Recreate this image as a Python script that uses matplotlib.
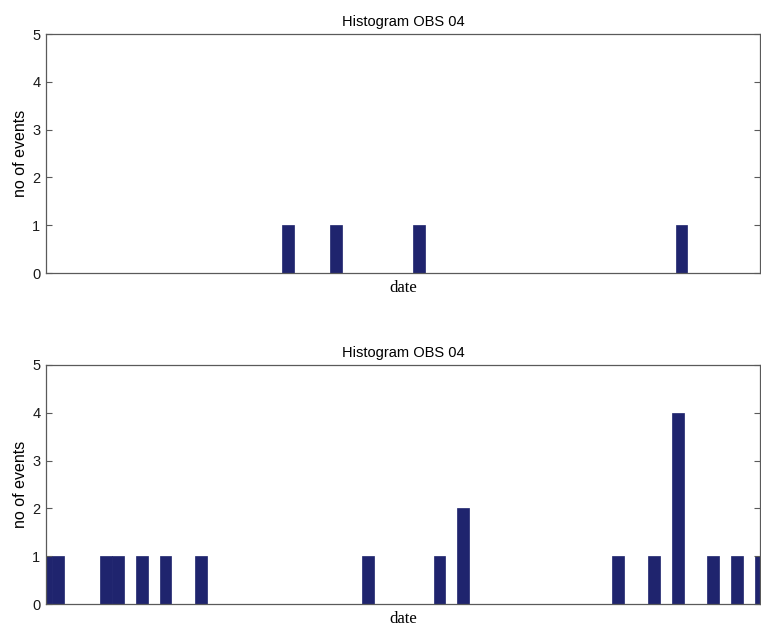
import matplotlib
matplotlib.use("Agg")
import matplotlib.pyplot as plt
import numpy as np

# Event counts per bin (bin index -> count), two observation periods
top_bins = [20, 24, 31, 53]
top_counts = [1, 1, 1, 1]
top_offset = 0.32  # bin edges of the first histogram are shifted

bottom_bins = [0, 1, 5, 6, 8, 10, 13, 27, 33, 35, 48, 51, 53, 56, 58, 60]
bottom_counts = [1, 1, 1, 1, 1, 1, 1, 1, 1, 2, 1, 1, 4, 1, 1, 1]

title_text = "Histogram OBS 04"
xlabel_text = "date"
ylabel_text = "no of events"
yticks = [0, 1, 2, 3, 4, 5]

W, H = 761, 626
fig = plt.figure(figsize=(W / 100, H / 100), dpi=100)

face = "#1f246e"
spine_col = "#5a5a5a"

def setup(ax, left, bins, counts):
    ax.bar(np.array(bins) + left, counts, width=1.0, align="edge",
           color=face, edgecolor=face, linewidth=0.5)
    ax.set_xlim(0.47, 60.45)
    ax.set_ylim(0, 5)
    ax.set_yticks(yticks)
    ax.set_yticklabels([str(t) for t in yticks], fontsize=10.5,
                       family="Liberation Sans", color="#1a1a1a")
    ax.set_xticks([])
    ax.tick_params(axis="y", direction="in", length=4, width=0.8,
                   color=spine_col, left=True, right=True, pad=4)
    for s in ax.spines.values():
        s.set_color(spine_col)
        s.set_linewidth(0.9)
    ax.set_title(title_text, fontsize=10.5, family="Liberation Sans", pad=6)
    ax.set_xlabel(xlabel_text, fontsize=12, family="Liberation Serif", labelpad=5)
    ax.set_ylabel(ylabel_text, fontsize=11.5, family="Liberation Sans", labelpad=3)

ax1 = fig.add_axes([46 / W, 1 - 273 / H, (760.5 - 46) / W, (273 - 34) / H])
setup(ax1, top_offset, top_bins, top_counts)

ax2 = fig.add_axes([46 / W, 1 - 604 / H, (760.5 - 46) / W, (604 - 365) / H])
setup(ax2, 0.0, bottom_bins, bottom_counts)

fig.savefig("out.png", dpi=100)
